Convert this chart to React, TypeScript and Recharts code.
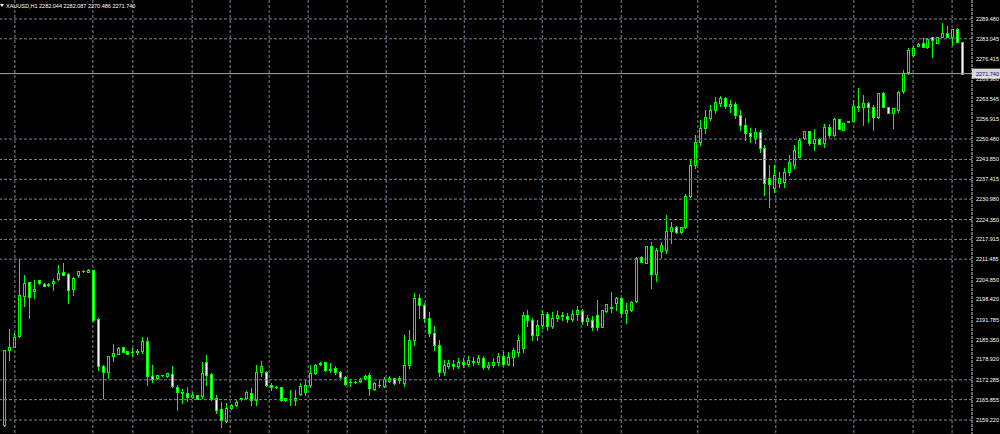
import { ComposedChart, Bar, XAxis, YAxis, CartesianGrid, ReferenceLine } from 'recharts';

// XAUUSD H1 candles (oldest -> newest)
const opens = [
  2157.6, 2182.0, 2183.0, 2186.5, 2199.5, 2204.1, 2201.1, 2204.7, 2203.4, 2203.4,
  2203.7, 2205.0, 2207.3, 2206.7, 2201.8, 2206.3, 2207.7, 2207.3, 2208.0, 2192.0,
  2176.8, 2174.8, 2180.0, 2180.7, 2183.0, 2181.6, 2181.3, 2181.3, 2181.6, 2184.9,
  2173.5, 2172.9, 2173.8, 2173.5, 2174.2, 2170.0, 2168.3, 2168.0, 2166.7, 2167.4,
  2167.0, 2178.1, 2174.2, 2166.4, 2162.8, 2158.9, 2163.1, 2164.1, 2166.1, 2166.4,
  2168.0, 2165.7, 2174.8, 2174.8, 2170.6, 2170.0, 2170.0, 2165.7, 2166.1, 2165.7,
  2167.7, 2168.3, 2170.6, 2174.5, 2177.4, 2178.1, 2175.8, 2176.2, 2174.8, 2173.2,
  2171.6, 2171.6, 2171.9, 2172.9, 2173.8, 2169.3, 2170.6, 2170.3, 2171.9, 2172.9,
  2172.2, 2171.3, 2177.1, 2185.2, 2198.9, 2196.6, 2192.4, 2187.5, 2183.6, 2174.8,
  2176.8, 2177.4, 2176.8, 2178.1, 2177.4, 2178.4, 2178.1, 2179.4, 2176.5, 2177.1,
  2178.1, 2180.0, 2177.4, 2179.7, 2181.3, 2182.6, 2193.3, 2191.7, 2186.8, 2190.1,
  2193.7, 2189.8, 2192.4, 2193.3, 2193.0, 2192.0, 2193.7, 2194.6, 2191.4, 2191.7,
  2193.3, 2189.4, 2194.6, 2195.6, 2197.2, 2198.9, 2194.0, 2195.0, 2197.9, 2212.2,
  2210.2, 2215.8, 2206.7, 2214.1, 2214.5, 2220.6, 2221.9, 2220.3, 2221.9, 2232.0,
  2242.1, 2249.5, 2254.1, 2257.3, 2259.9, 2262.2, 2263.8, 2261.2, 2261.9, 2258.3,
  2255.0, 2252.5, 2250.8, 2252.8, 2247.6, 2237.8, 2234.6, 2236.2, 2236.5, 2239.8,
  2242.1, 2244.7, 2250.8, 2253.1, 2249.2, 2250.5, 2249.2, 2254.4, 2251.8, 2257.0,
  2253.4, 2256.0, 2256.4, 2260.9, 2260.9, 2262.2, 2260.9, 2257.6, 2265.4, 2260.9,
  2258.9, 2259.9, 2266.1, 2272.2, 2277.8, 2280.7, 2281.7, 2280.4, 2283.6, 2281.7,
  2283.6, 2284.9, 2283.6, 2286.2, 2282.0,
];
const highs = [
  2182.0, 2188.8, 2187.5, 2211.5, 2206.3, 2204.1, 2204.7, 2204.7, 2203.7, 2203.7,
  2205.0, 2209.5, 2210.2, 2207.0, 2205.7, 2207.6, 2208.0, 2208.3, 2208.0, 2192.4,
  2177.1, 2180.0, 2183.9, 2183.0, 2183.0, 2181.6, 2182.6, 2182.3, 2186.2, 2186.2,
  2177.1, 2173.8, 2173.8, 2174.5, 2176.8, 2170.6, 2169.3, 2170.0, 2168.3, 2167.4,
  2178.1, 2180.3, 2174.5, 2167.4, 2165.1, 2164.8, 2164.4, 2165.7, 2166.4, 2168.7,
  2169.6, 2177.1, 2178.4, 2175.2, 2171.3, 2170.3, 2170.0, 2166.4, 2169.0, 2169.0,
  2171.3, 2172.2, 2177.1, 2177.4, 2178.1, 2178.1, 2177.7, 2176.8, 2175.2, 2173.5,
  2172.6, 2171.9, 2172.9, 2173.8, 2174.5, 2171.6, 2172.2, 2173.2, 2173.5, 2172.9,
  2173.5, 2186.8, 2188.5, 2200.5, 2200.2, 2197.2, 2194.3, 2189.7, 2185.2, 2178.7,
  2178.7, 2178.7, 2179.4, 2179.4, 2180.0, 2179.7, 2180.3, 2180.0, 2178.1, 2179.4,
  2181.0, 2181.3, 2181.3, 2182.6, 2186.8, 2194.3, 2195.0, 2192.4, 2191.7, 2195.0,
  2194.3, 2194.3, 2194.6, 2194.3, 2194.0, 2195.0, 2196.3, 2195.3, 2193.3, 2193.0,
  2198.2, 2195.0, 2196.9, 2200.8, 2199.2, 2198.9, 2197.2, 2197.9, 2212.2, 2212.5,
  2215.8, 2217.0, 2215.1, 2217.0, 2225.8, 2223.5, 2222.2, 2221.9, 2232.6, 2243.7,
  2251.8, 2256.7, 2259.9, 2261.6, 2264.1, 2264.5, 2264.1, 2263.2, 2262.5, 2259.9,
  2257.3, 2254.1, 2254.1, 2253.4, 2248.6, 2242.1, 2242.1, 2239.8, 2241.1, 2245.3,
  2248.6, 2250.8, 2253.1, 2253.1, 2253.8, 2250.8, 2255.4, 2255.4, 2257.3, 2257.0,
  2255.7, 2256.4, 2263.2, 2267.1, 2264.8, 2262.5, 2261.6, 2265.4, 2265.7, 2260.9,
  2260.6, 2266.1, 2272.9, 2280.1, 2280.7, 2281.7, 2283.3, 2283.3, 2283.6, 2283.6,
  2288.2, 2287.2, 2286.2, 2286.5, 2282.1,
];
const lows = [
  2157.3, 2178.7, 2183.0, 2186.2, 2196.3, 2192.4, 2198.9, 2203.4, 2202.8, 2202.8,
  2201.5, 2204.7, 2206.3, 2197.2, 2199.8, 2205.7, 2207.3, 2207.3, 2191.4, 2175.5,
  2166.4, 2172.9, 2178.4, 2180.7, 2181.3, 2180.7, 2180.0, 2180.7, 2181.0, 2170.6,
  2171.6, 2172.6, 2173.5, 2173.2, 2170.0, 2162.5, 2164.8, 2165.4, 2166.4, 2166.1,
  2166.4, 2170.6, 2165.7, 2161.5, 2157.0, 2158.6, 2162.8, 2163.8, 2165.7, 2166.1,
  2164.1, 2164.1, 2173.5, 2170.3, 2169.0, 2169.6, 2165.4, 2165.4, 2164.1, 2164.1,
  2167.4, 2167.4, 2170.0, 2174.2, 2177.1, 2175.1, 2174.8, 2174.2, 2172.9, 2170.6,
  2170.3, 2171.3, 2171.6, 2172.6, 2167.4, 2169.0, 2170.0, 2170.0, 2171.6, 2170.9,
  2171.3, 2170.3, 2176.1, 2183.6, 2192.4, 2191.1, 2186.5, 2182.0, 2173.5, 2173.8,
  2176.1, 2175.8, 2176.1, 2176.5, 2176.8, 2177.1, 2177.4, 2175.8, 2175.8, 2176.5,
  2177.1, 2176.8, 2177.1, 2176.8, 2180.0, 2181.3, 2189.8, 2185.2, 2185.2, 2189.1,
  2188.5, 2189.1, 2191.4, 2191.7, 2191.1, 2191.4, 2191.7, 2190.4, 2190.1, 2188.5,
  2188.5, 2189.4, 2194.3, 2194.3, 2195.0, 2192.7, 2190.8, 2194.6, 2197.6, 2210.6,
  2210.2, 2202.1, 2204.4, 2212.2, 2213.5, 2216.7, 2220.0, 2220.0, 2221.6, 2231.7,
  2241.1, 2248.6, 2252.5, 2256.7, 2258.9, 2261.2, 2260.6, 2259.3, 2257.3, 2253.4,
  2250.2, 2249.5, 2249.2, 2246.3, 2232.3, 2228.4, 2233.3, 2234.9, 2234.9, 2238.8,
  2241.1, 2244.7, 2250.5, 2248.6, 2246.9, 2248.9, 2247.9, 2251.2, 2251.5, 2253.8,
  2253.4, 2256.0, 2256.4, 2259.6, 2255.0, 2256.0, 2253.4, 2257.3, 2260.9, 2258.9,
  2254.1, 2259.3, 2265.4, 2271.6, 2277.5, 2280.7, 2280.4, 2280.1, 2277.1, 2281.7,
  2283.6, 2283.6, 2281.0, 2282.0, 2271.6,
];
const closes = [
  2182.0, 2183.0, 2186.2, 2199.8, 2203.7, 2199.2, 2201.8, 2203.7, 2202.8, 2203.1,
  2204.4, 2207.0, 2206.3, 2201.5, 2205.4, 2207.6, 2207.5, 2208.0, 2191.7, 2176.8,
  2174.8, 2180.0, 2181.0, 2182.6, 2181.3, 2180.7, 2181.2, 2181.6, 2184.9, 2173.5,
  2172.6, 2173.8, 2173.7, 2174.5, 2170.3, 2168.3, 2168.0, 2166.7, 2167.4, 2166.1,
  2174.5, 2173.8, 2166.1, 2162.5, 2159.2, 2163.1, 2164.1, 2165.1, 2166.4, 2168.3,
  2165.7, 2174.8, 2176.8, 2170.6, 2170.0, 2169.9, 2165.7, 2166.4, 2166.0, 2166.4,
  2170.3, 2170.6, 2174.5, 2177.1, 2177.7, 2175.5, 2175.5, 2174.8, 2173.2, 2170.9,
  2171.5, 2171.5, 2172.6, 2173.5, 2169.6, 2171.3, 2170.5, 2172.6, 2172.9, 2171.3,
  2172.9, 2177.1, 2185.2, 2198.9, 2196.6, 2192.4, 2187.5, 2183.6, 2174.8, 2177.1,
  2177.7, 2176.8, 2178.1, 2177.4, 2178.7, 2178.1, 2179.4, 2176.5, 2177.1, 2178.1,
  2180.0, 2177.4, 2179.7, 2182.0, 2185.2, 2193.3, 2191.7, 2186.8, 2190.1, 2193.7,
  2189.8, 2192.4, 2193.3, 2193.0, 2192.0, 2193.7, 2195.0, 2191.4, 2192.4, 2189.4,
  2189.4, 2195.0, 2196.9, 2196.0, 2198.9, 2194.0, 2195.0, 2197.6, 2211.9, 2210.6,
  2215.8, 2206.7, 2214.5, 2216.1, 2220.6, 2221.9, 2220.3, 2221.9, 2232.0, 2242.1,
  2249.5, 2254.1, 2257.6, 2259.9, 2262.5, 2263.8, 2261.2, 2261.9, 2258.3, 2255.0,
  2252.5, 2251.5, 2252.8, 2247.6, 2236.2, 2235.9, 2238.8, 2237.8, 2239.8, 2243.0,
  2246.9, 2250.2, 2253.1, 2249.2, 2250.5, 2248.9, 2254.4, 2251.8, 2257.0, 2253.8,
  2255.7, 2256.4, 2261.2, 2261.2, 2262.2, 2260.9, 2257.6, 2265.4, 2260.9, 2258.9,
  2260.6, 2265.8, 2271.9, 2279.4, 2280.1, 2281.4, 2280.4, 2283.0, 2282.7, 2283.6,
  2284.9, 2283.6, 2286.2, 2282.0, 2271.7,
];

// price scale labels on the right
const priceTicks = [
  2159.22, 2165.855, 2172.285, 2178.92, 2185.35, 2191.785, 2198.42, 2204.85, 2211.485,
  2217.915, 2224.35, 2230.98, 2237.415, 2243.85, 2250.48, 2256.915, 2263.545, 2269.98,
  2276.415, 2283.045, 2289.48,
];
// only some levels carry a grid line in the screenshot
const gridPrices = [
  2159.22, 2165.855, 2172.285, 2211.485, 2217.915, 2224.35, 2230.98, 2237.415, 2243.85,
  2250.48, 2283.045, 2289.48,
];
// vertical separators, in bar units
const gridBars = [
  2.2, 14.2, 18.0, 26.1, 34.0, 38.1, 41.7, 45.8, 53.7, 61.6, 69.5, 77.4, 85.3, 93.2,
  101.1, 109.0, 116.9, 125.0, 132.6, 140.5, 148.4, 156.3, 164.2, 172.1, 176.2, 180.0,
  184.1, 188.1, 192.0,
];
const lastPrice = 2271.74;
const title = 'XAUUSD,H1  2282.044 2282.087 2270.486 2271.740';

const data = opens.map((o, i) => {
  const c = closes[i];
  const h = Math.max(highs[i], o, c);
  const l = Math.min(lows[i], o, c);
  return { i, open: o, close: c, high: h, low: l, range: [l, h] };
});

const GREEN = '#00ff00';
const GRID = '#778899';
const FONT = '"Liberation Sans", Arial, sans-serif';

function Candle(props: any) {
  const { x, y, width, height, payload } = props;
  if (!payload) return null;
  const { open, close, high, low } = payload;
  const top = Math.min(y, y + height);
  const h = Math.abs(height);
  const span = high - low || 1;
  const py = (v: number) => top + ((high - v) / span) * h;
  const cx = Math.round(x + width / 2);
  const yo = py(open);
  const yc = py(close);
  const bTop = Math.round(Math.min(yo, yc));
  const bBot = Math.round(Math.max(yo, yc));
  const bear = close < open;
  return (
    <g>
      <line x1={cx + 0.5} x2={cx + 0.5} y1={Math.round(top)} y2={Math.round(top + h) + 1} stroke={GREEN} strokeWidth={1} />
      {bBot - bTop >= 1 ? (
        <rect x={cx - 0.5} y={bTop + 0.5} width={2} height={bBot - bTop} fill={bear ? '#ffffff' : '#000000'} stroke={GREEN} strokeWidth={1} />
      ) : (
        <line x1={cx - 1} x2={cx + 2} y1={bTop + 0.5} y2={bTop + 0.5} stroke={GREEN} strokeWidth={1} />
      )}
    </g>
  );
}

function PriceTick(props: any) {
  const { y, payload } = props;
  return (
    <text x={976} y={y + 2} fill="#ffffff" fontSize={5.5} fontFamily={FONT}>
      {Number(payload.value).toFixed(3)}
    </text>
  );
}

function LastLabel(props: any) {
  const vb = props.viewBox || {};
  const left = vb.x + vb.width;
  return (
    <g>
      <rect x={left} y={vb.y - 5} width={28} height={10} fill="#d8d8d8" />
      <text x={left + 4} y={vb.y + 2} fill="#000080" fontSize={5.5} fontFamily={FONT}>
        {lastPrice.toFixed(3)}
      </text>
    </g>
  );
}

export default function App() {
  return (
    <div style={{ position: 'absolute', left: 0, top: 0, width: 1000, height: 434, background: '#000000', overflow: 'hidden' }}>
      <ComposedChart width={1000} height={434} data={data} margin={{ top: 0, right: 0, bottom: 0, left: 0 }}>
        <CartesianGrid stroke={GRID} strokeDasharray="3 2" horizontal={false} verticalValues={gridBars} />
        <XAxis type="number" dataKey="i" domain={[-0.81, 196.03]} hide allowDataOverflow />
        <YAxis
          orientation="right"
          width={28}
          domain={[2154.69, 2295.65]}
          ticks={priceTicks}
          interval={0}
          allowDataOverflow
          tickLine={false}
          axisLine={{ stroke: '#d0d0d0', strokeDasharray: '3 1' }}
          tick={<PriceTick />}
        />
        {gridPrices.map((p) => (
          <ReferenceLine key={p} y={p} stroke={GRID} strokeDasharray="3 2" />
        ))}
        <Bar dataKey="range" barSize={3} shape={<Candle />} isAnimationActive={false} />
        <ReferenceLine y={lastPrice} stroke="#a8a8a8" strokeWidth={1} ifOverflow="visible" label={<LastLabel />} />
      </ComposedChart>
      <svg width={200} height={12} style={{ position: 'absolute', left: 0, top: 0 }}>
        <path d="M0,4 L4,4 L2,7 Z" fill="#ffffff" />
        <text x={6} y={7.5} fill="#ffffff" fontSize={5.5} fontFamily={FONT}>
          {title}
        </text>
      </svg>
    </div>
  );
}
